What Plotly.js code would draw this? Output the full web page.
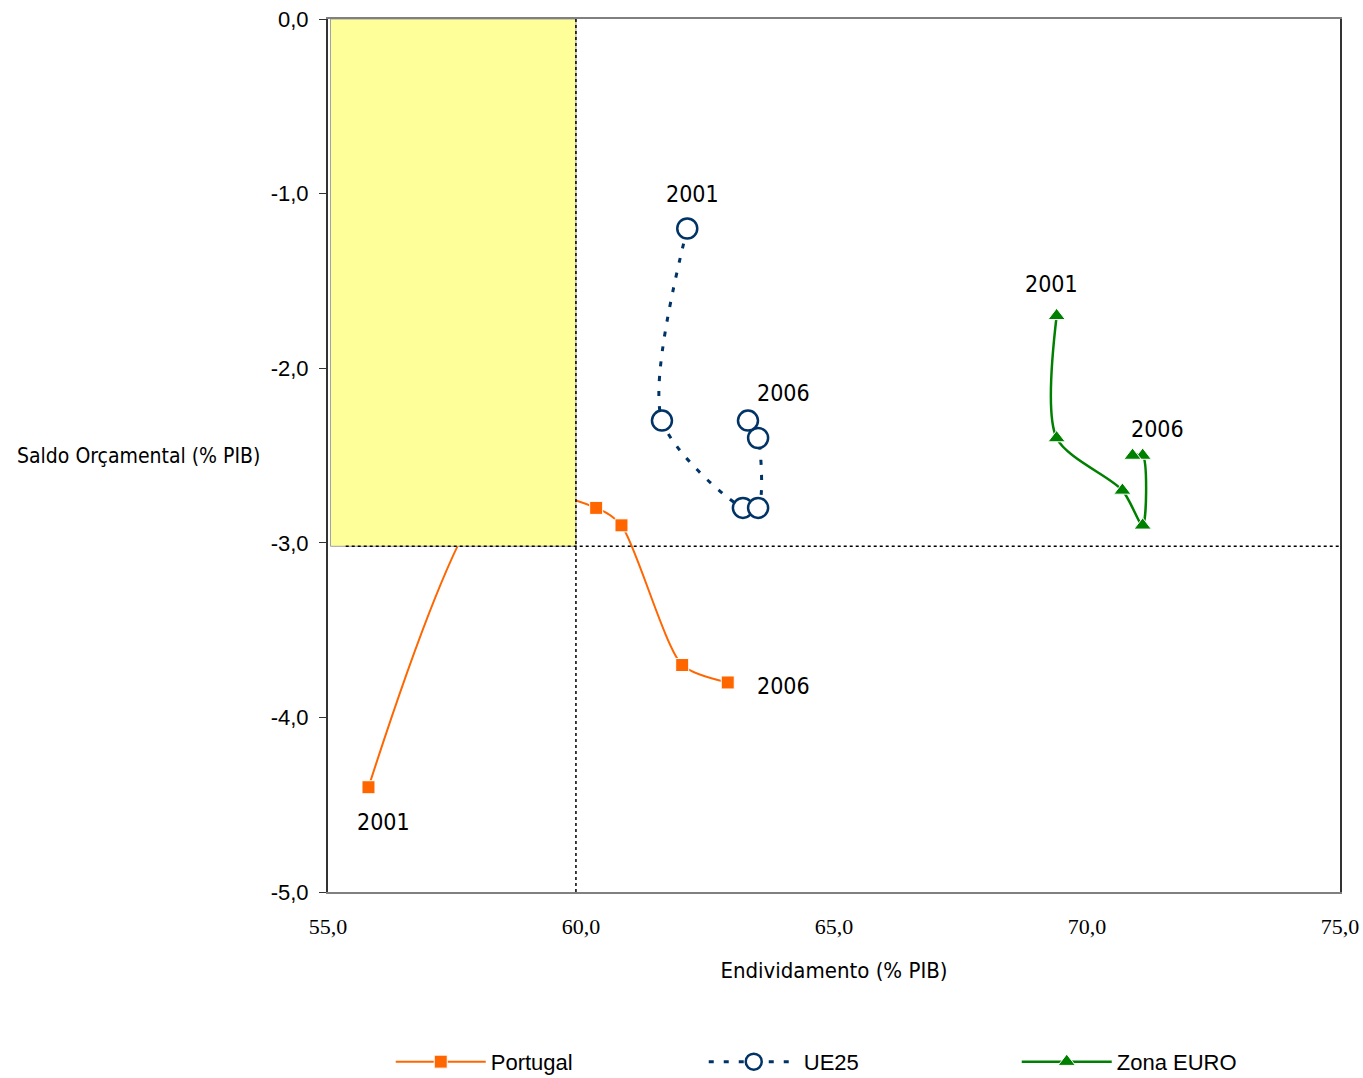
<!DOCTYPE html>
<html><head><meta charset="utf-8">
<script src="https://cdn.plot.ly/plotly-3.0.1.min.js"></script>
<style>html,body{margin:0;padding:0;background:#fff}#chart{width:1363px;height:1078px}</style>
</head><body><div id="chart"></div>
<script>
// Data (x = Endividamento % PIB, y = Saldo Orçamental % PIB), years 2001-2006
const years = ['2001','2002','2003','2004','2005','2006'];
const portugalX = [55.8, 58.3, 60.3, 60.8, 62.0, 62.9];
const portugalY = [-4.4, -2.7, -2.8, -2.9, -3.7, -3.8];
const ue25X = [62.1, 61.6, 63.2, 63.5, 63.5, 63.3];
const ue25Y = [-1.2, -2.3, -2.8, -2.8, -2.4, -2.3];
const euroX = [69.4, 69.4, 70.7, 71.1, 71.1, 70.9];
const euroY = [-1.7, -2.4, -2.7, -2.9, -2.5, -2.5];
const xTicks = [55, 60, 65, 70, 75];
const xTickText = ['55,0', '60,0', '65,0', '70,0', '75,0'];
const yTicks = [0, -1, -2, -3, -4, -5];
const yTickText = ['0,0', '-1,0', '-2,0', '-3,0', '-4,0', '-5,0'];
const narrow = '"DejaVu Sans Condensed", "Liberation Sans Narrow", "Arial Narrow", sans-serif';

const traces = [
  {name:'Portugal', x:portugalX, y:portugalY, text:years, mode:'lines+markers',
   line:{color:'#FF6600', width:2, shape:'spline', smoothing:0.7},
   marker:{symbol:'square', size:13, color:'#FF6600', line:{color:'#ffffff', width:1}}},
  {name:'UE25', x:ue25X, y:ue25Y, text:years, mode:'lines+markers',
   line:{color:'#003366', width:3, dash:'5px,10px', shape:'spline', smoothing:0.8},
   marker:{symbol:'circle', size:20, color:'#ffffff', line:{color:'#003366', width:2.5}}},
  {name:'Zona EURO', x:euroX, y:euroY, text:years, mode:'lines+markers',
   line:{color:'#008000', width:2.5, shape:'spline', smoothing:0.8},
   marker:{symbol:'triangle-up', size:15, color:'#008000', line:{color:'#ffffff', width:1}}}
];

function lab(x, y, t){ return {x:x, y:y, xref:'x', yref:'y', text:t, showarrow:false,
  font:{family:narrow, size:23, color:'#000'}}; }

const layout = {
  width:1363, height:1078,
  margin:{l:328, r:23, t:19, b:186},
  paper_bgcolor:'#fff', plot_bgcolor:'#fff',
  showlegend:true,
  legend:{orientation:'h', x:0.062, xanchor:'left', yref:'container', y:0.015, yanchor:'middle',
    font:{family:'"Liberation Sans", Arial, sans-serif', size:22, color:'#000'},
    entrywidth:208, itemwidth:90, tracegroupgap:0},
  xaxis:{range:[55,75], tickvals:xTicks, ticktext:xTickText, showgrid:false, zeroline:false,
    showline:true, linecolor:'#808080', linewidth:2, mirror:true, ticks:'', ticklabelstandoff:14,
    tickfont:{family:'"Liberation Serif", "Times New Roman", serif', size:22, color:'#000'},
    title:{text:'Endividamento (% PIB)', standoff:24, font:{family:narrow, size:22, color:'#000'}}},
  yaxis:{range:[-5,0], tickvals:yTicks, ticktext:yTickText, showgrid:false, zeroline:false,
    showline:true, linecolor:'#333', linewidth:2, mirror:true, ticks:'outside', ticklen:7, tickcolor:'#333',
    ticklabelstandoff:6,
    tickfont:{family:'"Liberation Sans", Arial, sans-serif', size:22, color:'#000'}},
  shapes:[
    {type:'rect', xref:'x', yref:'y', x0:55.05, x1:59.9, y0:-3.02, y1:0, layer:'above',
     fillcolor:'#FFFF99', line:{color:'#a0a0a0', width:1}},
    {type:'line', xref:'x', yref:'y', x0:59.9, x1:59.9, y0:-5, y1:0, layer:'above',
     line:{color:'#000', width:1.5, dash:'dot'}},
    {type:'line', xref:'x', yref:'y', x0:55.35, x1:75, y0:-3.02, y1:-3.02, layer:'above',
     line:{color:'#000', width:1.5, dash:'dot'}}
  ],
  annotations:[
    lab(56.1, -4.6, '2001'), lab(64.0, -3.82, '2006'),
    lab(62.2, -1.0, '2001'), lab(64.0, -2.14, '2006'),
    lab(69.3, -1.52, '2001'), lab(71.4, -2.35, '2006'),
    {x:0, y:-2.5, xref:'paper', yref:'y', xanchor:'right', xshift:-66, text:'Saldo Orçamental (% PIB)',
     showarrow:false, font:{family:narrow, size:21, color:'#000'}}
  ]
};
Plotly.newPlot('chart', traces, layout, {displayModeBar:false});
</script></body></html>
